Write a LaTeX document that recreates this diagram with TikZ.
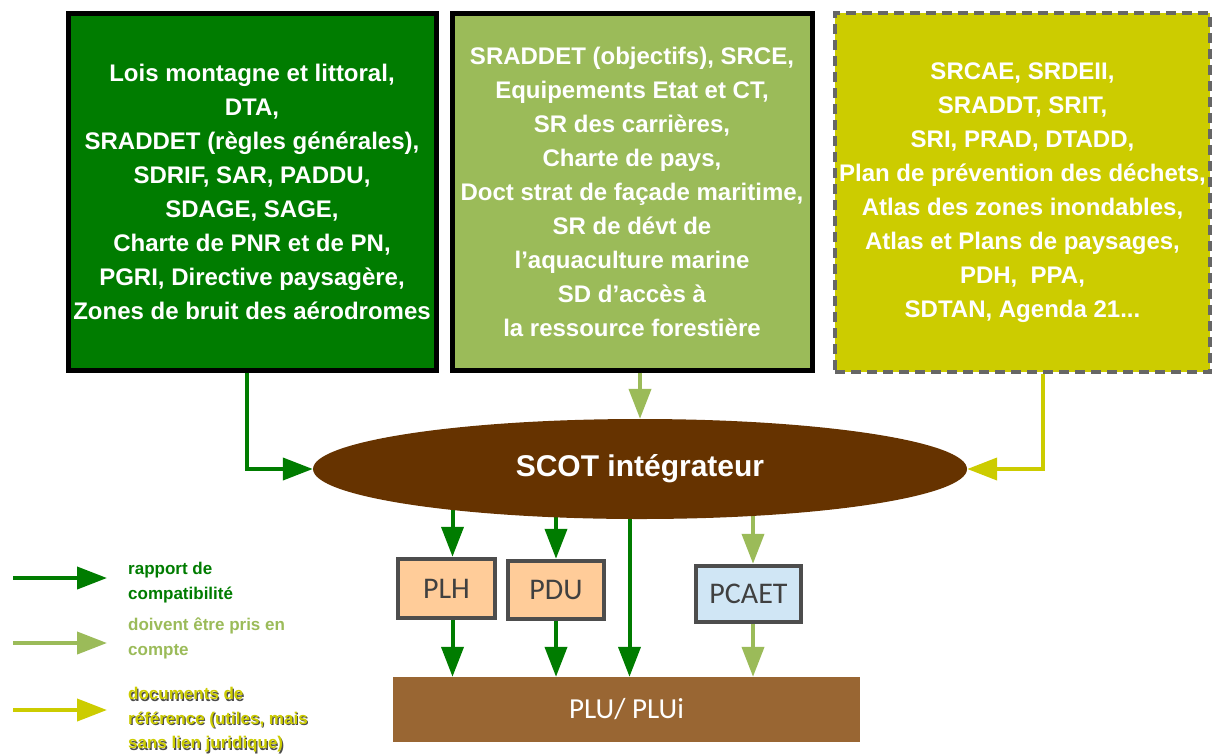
\documentclass[tikz,border=0pt]{standalone}
\usepackage{fontspec}
\setmainfont{Liberation Sans}
\newfontfamily\calib{Carlito}
\usetikzlibrary{arrows.meta,shapes.geometric,backgrounds}
\definecolor{dkgreen}{HTML}{007C00}
\definecolor{ltgreen}{HTML}{9BBB59}
\definecolor{yel}{HTML}{CCCC00}
\definecolor{scotbrown}{HTML}{663300}
\definecolor{plubrown}{HTML}{996633}
\definecolor{peach}{HTML}{FFCC99}
\definecolor{lblue}{HTML}{D0E6F5}
\definecolor{boxgray}{HTML}{4D4D4D}
\definecolor{dashgray}{HTML}{666666}
\definecolor{txtgray}{HTML}{404040}
\tikzset{
  topbox/.style={rectangle, minimum width=#1, minimum height=357pt, inner sep=0pt,
     align=center, text=white, font=\fontsize{24}{34}\selectfont\bfseries},
  planbox/.style={rectangle, draw=boxgray, line width=4.5pt, inner sep=0pt,
     text=txtgray, font=\calib\fontsize{30}{32}\selectfont},
  arrD/.style={line width=4pt, draw=dkgreen, -{Triangle[length=30pt,width=22pt]}},
  arrL/.style={line width=4pt, draw=ltgreen, -{Triangle[length=30pt,width=22pt]}},
  arrY/.style={line width=4pt, draw=yel, -{Triangle[length=30pt,width=22pt]}},
  legtxt/.style={anchor=west, inner sep=0pt, align=left, font=\fontsize{17}{24.5}\selectfont\bfseries}
}
\begin{document}
\begin{tikzpicture}[x=1pt,y=-1pt]
\useasboundingbox (0,0) rectangle (1214,753);

% top boxes
\node[topbox=368pt, fill=dkgreen, draw=black, line width=5pt] (box1) at (252,191.5)
 {Lois montagne et littoral,\\DTA,\\SRADDET (règles générales),\\SDRIF, SAR, PADDU,\\SDAGE, SAGE,\\Charte de PNR et de PN,\\PGRI, Directive paysagère,\\Zones de bruit des aérodromes};
\node[topbox=360pt, fill=ltgreen, draw=black, line width=5pt] (box2) at (632,191.5)
 {SRADDET (objectifs), SRCE,\\Equipements Etat et CT,\\SR des carrières,\\Charte de pays,\\Doct strat de façade maritime,\\SR de dévt de\\l’aquaculture marine\\SD d’accès à\\la ressource forestière};
\node[topbox=375pt, minimum height=359pt, fill=yel, draw=dashgray, line width=4pt,
      dash pattern=on 10pt off 6pt] (box3) at (1022.5,192.5)
 {SRCAE, SRDEII,\\SRADDT, SRIT,\\SRI, PRAD, DTADD,\\Plan de prévention des déchets,\\Atlas des zones inondables,\\Atlas et Plans de paysages,\\PDH,\ \ PPA,\\SDTAN, Agenda 21...};

% SCOT
\node[ellipse, fill=scotbrown, minimum width=654pt, minimum height=100pt, inner sep=0pt,
      text=white, font=\fontsize{30}{32}\selectfont\bfseries] (scot) at (640,469) {SCOT intégrateur};

% plan boxes
\node[planbox, fill=peach, minimum width=97pt, minimum height=59pt] (plh) at (446.5,588.5) {PLH};
\node[planbox, fill=peach, minimum width=96pt, minimum height=58pt] (pdu) at (556,590) {PDU};
\node[planbox, fill=lblue, minimum width=105pt, minimum height=56pt] (pcaet) at (748.5,594) {PCAET};
\node[rectangle, fill=plubrown, minimum width=467pt, minimum height=65pt, inner sep=0pt,
      text=white, font=\calib\fontsize{29}{31}\selectfont] (plu) at (626.5,709.5) {PLU/ PLUi};

% helper coordinates for connector columns
\coordinate (plhN) at ([xshift=6pt]plh.north);
\coordinate (plhS) at ([xshift=6pt]plh.south);
\coordinate (pcaetN) at ([xshift=4.5pt]pcaet.north);
\coordinate (pcaetS) at ([xshift=4.5pt]pcaet.south);
\coordinate (pluN) at ([xshift=3pt]plu.north);

% connectors from top boxes
\draw[arrD] ([xshift=-5pt]box1.south) |- (scot.west);
\draw[arrL] (box2.south -| scot.north) -- (scot.north);
\draw[arrY] ([xshift=20pt]box3.south) |- (scot.east);

\begin{pgfonlayer}{background}
\draw[arrD] (scot.center -| plhN) -- (plhN);
\draw[arrD] (scot.center -| pdu.north) -- (pdu.north);
\draw[arrD] (scot.center -| pluN) -- (pluN);
\draw[arrL] (scot.center -| pcaetN) -- (pcaetN);
\end{pgfonlayer}

\draw[arrD] (plhS) -- (plhS |- plu.north);
\draw[arrD] (pdu.south) -- (pdu.south |- plu.north);
\draw[arrL] (pcaetS) -- (pcaetS |- plu.north);

% legend
\coordinate (l1a) at (13,578); \coordinate (l1b) at (107,578);
\coordinate (l2a) at (13,643); \coordinate (l2b) at (107,643);
\coordinate (l3a) at (13,710); \coordinate (l3b) at (107,710);
\draw[arrD] (l1a) -- (l1b);
\draw[arrL] (l2a) -- (l2b);
\draw[arrY] (l3a) -- (l3b);
\node[legtxt, text=dkgreen] (t1) at (128,582.5) {rapport de\\compatibilité};
\node[legtxt, text=ltgreen] (t2) at (128,638.5) {doivent être pris en\\compte};
\node[legtxt, text=black!70] (t3s) at (129.2,721.2) {documents de\\référence (utiles, mais\\sans lien juridique)};
\node[legtxt, text=yel] (t3) at (128,720) {documents de\\référence (utiles, mais\\sans lien juridique)};
\end{tikzpicture}
\end{document}
